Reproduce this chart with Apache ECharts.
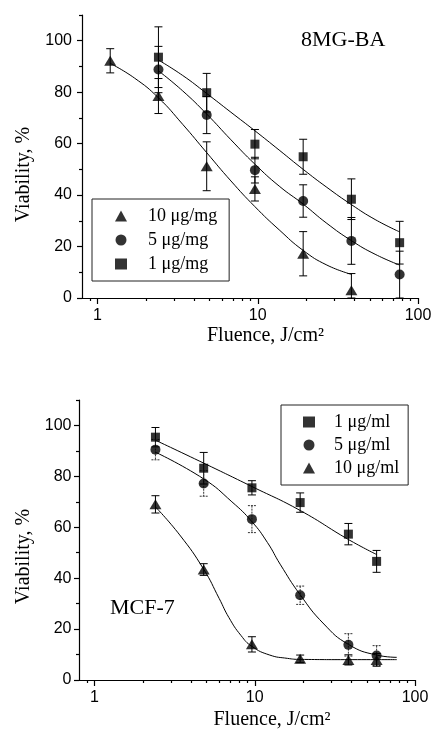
<!DOCTYPE html>
<html>
<head>
<meta charset="utf-8">
<script src="https://cdn.jsdelivr.net/npm/echarts@6/dist/echarts.min.js"></script>
<style>
html, body { margin: 0; padding: 0; background: #fff; }
#main { width: 435px; height: 731px; }
</style>
</head>
<body>
<div id="main"></div>
<script>
// tick values
var xMajorTicks = [1, 10, 100];
var xMinorTicks = [0.9, 2, 3, 4, 5, 6, 7, 8, 9, 20, 30, 40, 50, 60, 70, 80, 90];
var yMajorTicks = [0, 20, 40, 60, 80, 100];
var yMinorTicks = [10, 30, 50, 70, 90, 110];

// panel 1 : 8MG-BA
var fluenceA = [1.2, 2.4, 4.8, 9.6, 19.2, 38.4, 76.8];
var a10Mean = [92.2, 78.5, 51.2, 42.4, 17.2, 3.0];
var a10Err = [4.7, 6.8, 9.5, 4.7, 8.6, 6.5];
var a5Mean = [88.8, 71.1, 49.7, 37.7, 22.2, 9.1];
var a5Err = [9.0, 7.2, 5.0, 6.3, 9.1, 9.1];
var a1Mean = [93.6, 79.8, 59.8, 54.9, 38.4, 21.5];
var a1Err = [11.8, 7.5, 5.7, 6.8, 7.9, 8.3];
// fitted curves
var a10Fit = [[1.2, 91.2], [1.7, 85.5], [2.4, 77.8], [3.4, 67.5], [4.8, 56.5], [6.8, 45.5], [9.6, 35.5], [13.6, 26.5], [19.2, 18.5], [27, 12.8], [38.4, 9.2]];
var a5Fit = [[2.4, 88.3], [3.4, 80.5], [4.8, 71.5], [6.8, 61.5], [9.6, 52.0], [13.6, 43.5], [19.2, 36.5], [27, 29.0], [38.4, 22.3], [54, 17.0], [76.8, 12.8]];
var a1Fit = [[2.4, 92.5], [3.4, 86.5], [4.8, 79.5], [6.8, 72.2], [9.6, 65.0], [13.6, 57.5], [19.2, 50.0], [27, 43.0], [38.4, 36.3], [54, 30.5], [76.8, 25.7]];

// panel 2 : MCF-7
var fluenceB = [2.4, 4.8, 9.6, 19.2, 38.4, 57.6];
var b1Mean = [95.4, 83.2, 75.5, 69.7, 57.3, 46.6];
var b1Err = [3.8, 6.2, 2.8, 3.8, 4.2, 4.3];
var b5Mean = [90.5, 77.2, 63.2, 33.3, 13.8, 9.6];
var b5Err = [4.0, 5.0, 5.3, 3.6, 4.4, 3.9];
var b10Mean = [69.0, 43.4, 14.0, 8.3, 7.9, 7.9];
var b10Err = [3.4, 2.3, 3.0, 1.5, 2.0, 2.5];
var b1Fit = [[2.4, 94.2], [4.8, 85.2], [9.6, 76.0], [19.2, 66.6], [38.4, 55.2], [57.6, 49.3]];
var b5Fit = [[2.4, 89.5], [4.8, 79.0], [7.2, 70.0], [9.6, 62.2], [12, 54.0], [14.4, 45.5], [19.2, 33.5], [27, 22.0], [38.4, 14.0], [57.6, 9.8], [77, 8.9]];
var b10Fit = [[2.4, 68.0], [3.4, 57.0], [4.8, 43.5], [6.0, 32.0], [6.9, 24.5], [8.2, 17.5], [9.6, 13.2], [12.4, 9.8], [16, 8.5], [19.2, 8.1], [38.4, 8.0], [77, 8.0]];

var SERIF = '"Liberation Serif", "Times New Roman", serif';
var SANS = '"Liberation Sans", Arial, sans-serif';

let myChart = echarts.init(document.getElementById('main'));

function pts(xs, ys) {
	return ys.map(function (v, i) { return [xs[i], v]; });
}
function bars(xs, ys, es) {
	return ys.map(function (v, i) { return [xs[i], Math.max(0, v - es[i]), v + es[i]]; });
}

function xAxes(grid, gap, shift) {
	return [{
		type: 'log', logBase: 10, gridIndex: grid, position: 'bottom', min: 0.8, max: 100,
		name: 'Fluence, J/cm²', nameLocation: 'middle', nameGap: gap,
		nameTextStyle: { fontFamily: SERIF, fontSize: 20, color: '#000', padding: [0, 0, 0, shift] },
		axisLine: { onZero: false, lineStyle: { color: '#000', width: 1.2 } },
		axisTick: { customValues: xMajorTicks, length: 6, lineStyle: { color: '#000', width: 1.2 } },
		axisLabel: { customValues: xMajorTicks, margin: 10, fontFamily: SANS, fontSize: 16, color: '#000' },
		splitLine: { show: false }
	}, {
		type: 'log', logBase: 10, gridIndex: grid, position: 'bottom', min: 0.8, max: 100,
		axisLine: { show: false },
		axisTick: { customValues: xMinorTicks, length: 3, lineStyle: { color: '#000', width: 1.2 } },
		axisLabel: { show: false },
		splitLine: { show: false }
	}];
}

function yAxes(grid, gap, shift, margin) {
	return [{
		type: 'value', gridIndex: grid, position: 'left', min: 0, max: 110,
		name: 'Viability, %', nameLocation: 'middle', nameGap: gap, nameRotate: 90,
		nameTextStyle: { fontFamily: SERIF, fontSize: 20, color: '#000', padding: [0, shift, 0, 0] },
		axisLine: { onZero: false, lineStyle: { color: '#000', width: 1.2 } },
		axisTick: { customValues: yMajorTicks, length: 5, lineStyle: { color: '#000', width: 1.2 } },
		axisLabel: { customValues: yMajorTicks, margin: margin, fontFamily: SANS, fontSize: 16, color: '#000' },
		splitLine: { show: false }
	}, {
		type: 'value', gridIndex: grid, position: 'left', min: 0, max: 110,
		axisLine: { show: false },
		axisTick: { customValues: yMinorTicks, length: 3, lineStyle: { color: '#000', width: 1.2 } },
		axisLabel: { show: false },
		splitLine: { show: false }
	}];
}

// error bars: vertical line with small caps
function errorSeries(axis, data, dash) {
	return {
		type: 'custom', xAxisIndex: axis, yAxisIndex: axis, data: data, z: 3,
		encode: { x: 0, y: [1, 2] },
		renderItem: function (params, api) {
			var x = api.value(0);
			var top = api.coord([x, api.value(2)]);
			var bot = api.coord([x, api.value(1)]);
			var st = { stroke: dash ? '#333' : '#000', lineWidth: 1, lineDash: dash || null };
			return {
				type: 'group',
				children: [
					{ type: 'line', shape: { x1: top[0], y1: top[1], x2: bot[0], y2: bot[1] }, style: st },
					{ type: 'line', shape: { x1: top[0] - 4, y1: top[1], x2: top[0] + 4, y2: top[1] }, style: st },
					{ type: 'line', shape: { x1: bot[0] - 4, y1: bot[1], x2: bot[0] + 4, y2: bot[1] }, style: st }
				]
			};
		}
	};
}

function fitSeries(axis, data) {
	return {
		type: 'line', xAxisIndex: axis, yAxisIndex: axis, data: data, z: 2,
		smooth: true, showSymbol: false, silent: true,
		lineStyle: { color: '#000', width: 1 }
	};
}

function dotSeries(axis, name, symbol, size, data) {
	return {
		type: 'scatter', name: name, xAxisIndex: axis, yAxisIndex: axis, data: data, z: 4,
		symbol: symbol, symbolSize: size,
		itemStyle: { color: '#000' }
	};
}

let option = {
	animation: false,
	backgroundColor: '#fff',
	title: [
		{ text: '8MG-BA', left: 301, top: 29, padding: 0,
		  textStyle: { fontFamily: SERIF, fontSize: 22, fontWeight: 'normal', color: '#000' } },
		{ text: 'MCF-7', left: 110, top: 597, padding: 0,
		  textStyle: { fontFamily: SERIF, fontSize: 22, fontWeight: 'normal', color: '#000' } }
	],
	legend: [{
		data: ['10 μg/mg', '5 μg/mg', '1 μg/mg'],
		orient: 'vertical', left: 92, top: 199,
		padding: [7, 12, 7, 23], itemGap: 4, itemWidth: 12, itemHeight: 11,
		borderColor: '#222', borderWidth: 1, selectedMode: false,
		textStyle: { fontFamily: SERIF, fontSize: 18, color: '#000', lineHeight: 20, padding: [0, 0, 0, 16] }
	}, {
		data: ['1 μg/ml', '5 μg/ml', '10 μg/ml'],
		orient: 'vertical', left: 281, top: 405,
		padding: [7, 9, 7, 22], itemGap: 3, itemWidth: 12, itemHeight: 11,
		borderColor: '#222', borderWidth: 1, selectedMode: false,
		textStyle: { fontFamily: SERIF, fontSize: 18, color: '#000', lineHeight: 20, padding: [0, 0, 0, 14] }
	}],
	grid: [
		{ left: 82, right: 17, top: 15, bottom: 433 },
		{ left: 79, right: 20, top: 400, bottom: 49 }
	],
	xAxis: xAxes(0, 28, 31).concat(xAxes(1, 30, 50)),
	yAxis: yAxes(0, 48, 36, 10).concat(yAxes(1, 44, 33, 7.5)),
	series: [
		fitSeries(0, a10Fit),
		fitSeries(0, a5Fit),
		fitSeries(0, a1Fit),
		errorSeries(0, bars(fluenceA, a10Mean, a10Err)),
		errorSeries(0, bars(fluenceA.slice(1), a5Mean, a5Err)),
		errorSeries(0, bars(fluenceA.slice(1), a1Mean, a1Err)),
		dotSeries(0, '10 μg/mg', 'triangle', [12, 10], pts(fluenceA, a10Mean)),
		dotSeries(0, '5 μg/mg', 'circle', 10, pts(fluenceA.slice(1), a5Mean)),
		dotSeries(0, '1 μg/mg', 'rect', 9, pts(fluenceA.slice(1), a1Mean)),

		fitSeries(2, b1Fit),
		fitSeries(2, b5Fit),
		fitSeries(2, b10Fit),
		errorSeries(2, bars(fluenceB, b1Mean, b1Err)),
		errorSeries(2, bars(fluenceB, b5Mean, b5Err), [2, 1]),
		errorSeries(2, bars(fluenceB, b10Mean, b10Err)),
		dotSeries(2, '1 μg/ml', 'rect', 9, pts(fluenceB, b1Mean)),
		dotSeries(2, '5 μg/ml', 'circle', 10, pts(fluenceB, b5Mean)),
		dotSeries(2, '10 μg/ml', 'triangle', [12, 10], pts(fluenceB, b10Mean))
	]
};

myChart.setOption(option);
</script>
</body>
</html>
